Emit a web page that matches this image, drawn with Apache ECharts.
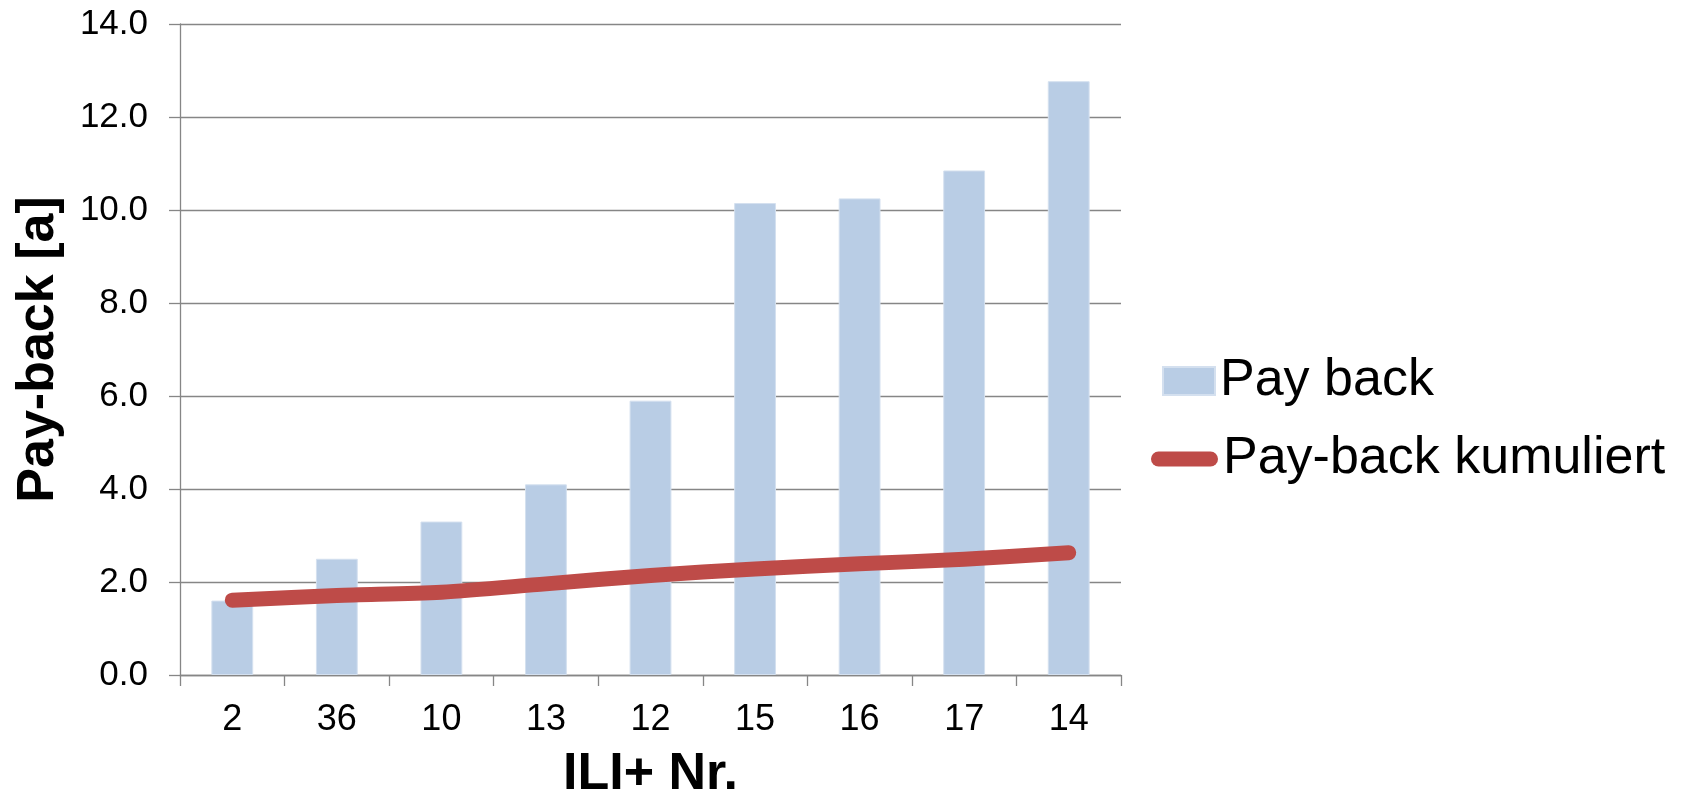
<!DOCTYPE html>
<html>
<head>
<meta charset="utf-8">
<script src="https://cdn.jsdelivr.net/npm/echarts@6/dist/echarts.min.js"></script>
<style>
  html, body { margin: 0; padding: 0; background: #ffffff; }
  #chart { width: 1692px; height: 800px; }
</style>
</head>
<body>
<div id="chart"></div>
<script>
const categories = ['2', '36', '10', '13', '12', '15', '16', '17', '14'];
const payBack = [1.6, 2.5, 3.3, 4.1, 5.9, 10.15, 10.25, 10.85, 12.77];
const payBackKumuliert = [1.61, 1.71, 1.78, 1.96, 2.14, 2.28, 2.39, 2.49, 2.63];
const yTicks = { min: 0, max: 14, interval: 2 };

const FONT = '"Liberation Sans", Arial, sans-serif';
const GRAY = '#868686';

const chart = echarts.init(document.getElementById('chart'), null, { renderer: 'canvas' });
chart.setOption({
  backgroundColor: '#ffffff',
  animation: false,
  textStyle: { fontFamily: FONT },
  grid: { left: 180, right: 571, top: 24, bottom: 125, containLabel: false, outerBoundsMode: 'none' },
  legend: [
    {
      data: [{ name: 'Pay back', icon: 'rect' }],
      left: 1162, top: 355, padding: 0,
      itemWidth: 52, itemHeight: 28, itemGap: 5,
      textStyle: { fontSize: 52, color: '#000', fontFamily: FONT },
      selectedMode: false
    },
    {
      data: [{ name: 'Pay-back kumuliert', icon: 'path://M7.5,0 H59.5 A7.5,7.5 0 0 1 59.5,15 H7.5 A7.5,7.5 0 0 1 7.5,0 Z' }],
      left: 1151, top: 433, padding: 0,
      itemWidth: 67, itemHeight: 15, itemGap: 5,
      textStyle: { fontSize: 52, color: '#000', fontFamily: FONT },
      selectedMode: false
    }
  ],
  xAxis: {
    type: 'category',
    data: categories,
    boundaryGap: true,
    name: 'ILI+ Nr.',
    nameLocation: 'middle',
    nameGap: 74,
    nameMoveOverlap: false,
    nameTextStyle: { fontSize: 52, fontWeight: 'bold', color: '#000', fontFamily: FONT },
    axisLine: { show: true, lineStyle: { color: GRAY, width: 1.3 } },
    axisTick: { show: true, length: 11, alignWithLabel: false, lineStyle: { color: GRAY, width: 1.3 } },
    axisLabel: { fontSize: 36, color: '#000', margin: 27, fontFamily: FONT, interval: 0 },
    splitLine: { show: false }
  },
  yAxis: {
    type: 'value',
    min: yTicks.min,
    max: yTicks.max,
    interval: yTicks.interval,
    name: 'Pay-back [a]',
    nameLocation: 'middle',
    nameGap: 115,
    nameMoveOverlap: false,
    nameRotate: 90,
    nameTextStyle: { fontSize: 52, fontWeight: 'bold', color: '#000', fontFamily: FONT },
    axisLine: { show: true, lineStyle: { color: GRAY, width: 1.3 } },
    axisTick: { show: true, length: 11, lineStyle: { color: GRAY, width: 1.3 } },
    axisLabel: { fontSize: 35, color: '#000', margin: 32, fontFamily: FONT, formatter: v => v.toFixed(1) },
    splitLine: { show: true, lineStyle: { color: GRAY, width: 1.3 } }
  },
  series: [
    {
      name: 'Pay back',
      type: 'bar',
      data: payBack,
      barWidth: '40%',
      itemStyle: { color: '#B9CDE5', borderColor: '#D4E0EF', borderWidth: 1 },
      z: 2
    },
    {
      name: 'Pay-back kumuliert',
      type: 'line',
      data: payBackKumuliert,
      smooth: 0.3,
      showSymbol: false,
      symbol: 'none',
      lineStyle: { color: '#BE4B48', width: 15, cap: 'round', join: 'round' },
      itemStyle: { color: '#BE4B48' },
      z: 3
    }
  ]
});
</script>
</body>
</html>
